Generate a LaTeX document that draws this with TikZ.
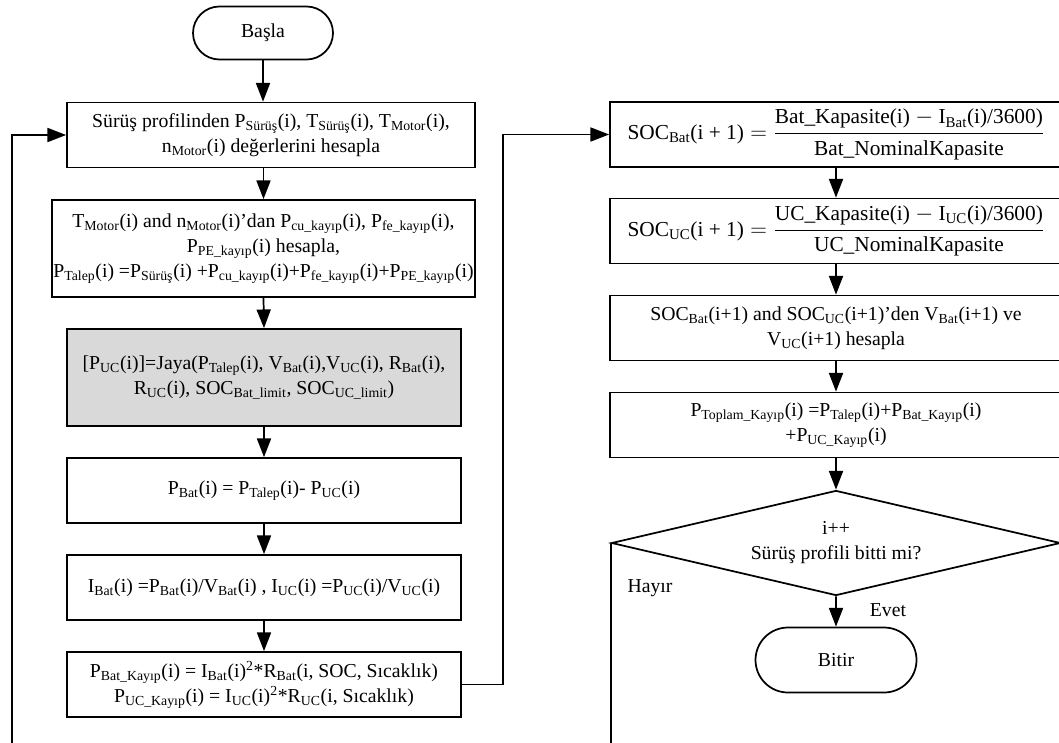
\documentclass[tikz,border=0pt]{standalone}
\usepackage{fontspec}
\setmainfont{Liberation Serif}
\usetikzlibrary{arrows.meta,shapes.geometric,shapes.misc}
\newcommand{\ix}[1]{\textsubscript{#1}}

\begin{document}
\begin{tikzpicture}[x=0.75pt,y=-0.75pt,
    font=\fontsize{14.8}{18.75}\selectfont,
    box/.style={draw,line width=1.3pt,align=center,inner sep=0pt,
        minimum width=295.5pt,minimum height=48.75pt},
    rbox/.style={box,minimum width=339pt},
    term/.style={draw,line width=1.3pt,rounded rectangle,inner sep=0pt,
        minimum width=120.75pt,minimum height=48.75pt},
    arr/.style={line width=1.3pt,-{Triangle[length=14pt,width=10.5pt]}}]
    \useasboundingbox (0,0) rectangle (1059,742);
    \clip (0,0) rectangle (1059,742);

    \node[term,minimum width=105pt,minimum height=39.75pt] (basla) at (263,33) {Başla};
    \node[box,minimum width=306pt] (surus) at (271,135)
        {Sürüş profilinden P\ix{Sürüş}(i), T\ix{Sürüş}(i), T\ix{Motor}(i),\\
         n\ix{Motor}(i) değerlerini hesapla};
    \node[box,minimum width=317pt,minimum height=72.75pt] (motor) at (263.5,248.5)
        {T\ix{Motor}(i) and n\ix{Motor}(i)’dan P\ix{cu\_kayıp}(i), P\ix{fe\_kayıp}(i),\\
         P\ix{PE\_kayıp}(i) hesapla,\\
         P\ix{Talep}(i) =P\ix{Sürüş}(i) +P\ix{cu\_kayıp}(i)+P\ix{fe\_kayıp}(i)+P\ix{PE\_kayıp}(i)};
    \node[box,fill=black!15,minimum height=72.75pt] (jaya) at (264,377.5)
        {[P\ix{UC}(i)]=Jaya(P\ix{Talep}(i), V\ix{Bat}(i),V\ix{UC}(i), R\ix{Bat}(i),\\
         R\ix{UC}(i), SOC\ix{Bat\_limit}, SOC\ix{UC\_limit})};
    \node[box] (pbat) at (264,490.5) {P\ix{Bat}(i) = P\ix{Talep}(i)- P\ix{UC}(i)};
    \node[box] (ibat) at (264,587.5)
        {I\ix{Bat}(i) =P\ix{Bat}(i)/V\ix{Bat}(i) , I\ix{UC}(i) =P\ix{UC}(i)/V\ix{UC}(i)};
    \node[box] (kayip) at (264,684.5)
        {P\ix{Bat\_Kayıp}(i) = I\ix{Bat}(i)\textsuperscript{2}*R\ix{Bat}(i, SOC, Sıcaklık)\\
         P\ix{UC\_Kayıp}(i) = I\ix{UC}(i)\textsuperscript{2}*R\ix{UC}(i, Sıcaklık)};

    \node[rbox,font=\fontsize{16}{19}\selectfont] (socbat) at (836,134.5)
        {$\mbox{SOC\ix{Bat}(i + 1)} = \displaystyle\frac{\mbox{Bat\_Kapasite(i) $-$ I\ix{Bat}(i)/3600)}}{\mbox{Bat\_NominalKapasite}}$};
    \node[rbox,font=\fontsize{16}{19}\selectfont] (socuc) at (836,231)
        {$\mbox{SOC\ix{UC}(i + 1)} = \displaystyle\frac{\mbox{UC\_Kapasite(i) $-$ I\ix{UC}(i)/3600)}}{\mbox{UC\_NominalKapasite}}$};
    \node[rbox] (vbat) at (836,328)
        {SOC\ix{Bat}(i+1) and SOC\ix{UC}(i+1)’den V\ix{Bat}(i+1) ve\\
         V\ix{UC}(i+1) hesapla};
    \node[rbox] (toplam) at (836,425)
        {P\ix{Toplam\_Kayıp}(i) =P\ix{Talep}(i)+P\ix{Bat\_Kayıp}(i)\\
         +P\ix{UC\_Kayıp}(i)};
    \node[draw,line width=1.3pt,diamond,shape aspect=4.28,inner sep=0pt,align=center,
        minimum width=336.75pt,minimum height=78.75pt] (dec) at (836,543)
        {i++\\Sürüş profili bitti mi?};
    \node[term] (bitir) at (836,660) {Bitir};
    \node (hayir) at (650,588) {Hayır};
    \node (evet) at (888,610) {Evet};

    \draw[arr] (basla.south) -- (basla.south |- surus.north);
    \draw[arr] (surus.south -| motor) -- (motor.north);
    \draw[arr] (motor.south) -- (jaya.north);
    \draw[arr] (jaya) -- (pbat);
    \draw[arr] (pbat) -- (ibat);
    \draw[arr] (ibat) -- (kayip);
    \draw[arr] (kayip.east) -- ++(41,0) |- (socbat.west);
    \draw[arr] (socbat) -- (socuc);
    \draw[arr] (socuc) -- (vbat);
    \draw[arr] (vbat) -- (toplam);
    \draw[arr] (toplam) -- (dec);
    \draw[arr] (dec) -- (bitir);
    \coordinate (back) at (12,780);
    \draw[arr] (dec.west) |- (back) |- (surus.west);
\end{tikzpicture}
\end{document}
